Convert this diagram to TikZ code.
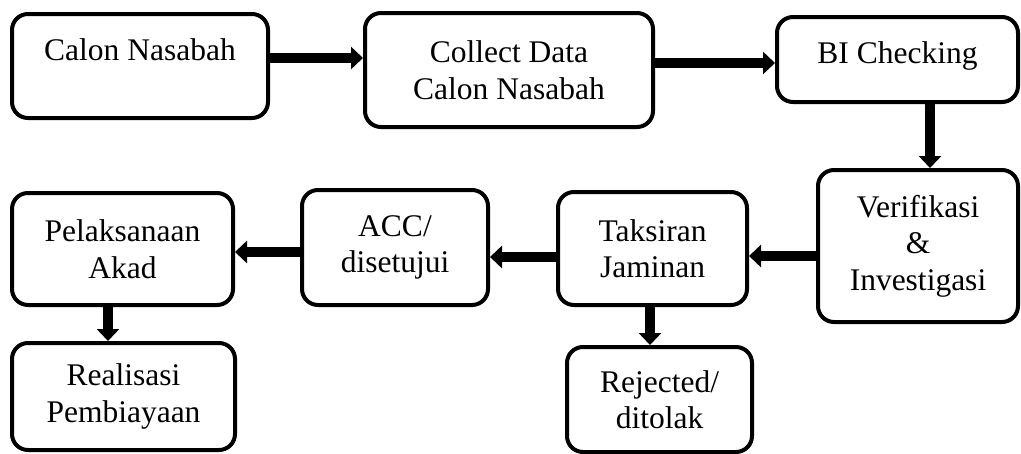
\documentclass[tikz,border=0pt]{standalone}
\usepackage{fontspec}
\setmainfont{Liberation Serif}
\usepackage{tikz}
\usetikzlibrary{arrows.meta}
\usetikzlibrary{shapes}

\begin{document}
\begin{tikzpicture}[x=1pt, y=-1pt,
    box/.style={draw, line width=4pt, rounded corners=16pt, align=center,
        inner sep=0pt, font=\fontsize{31.5}{36.5}\selectfont},
    arr/.style={line width=10pt, -{Triangle[length=12pt, width=22pt]}}]
        \useasboundingbox (0, 0) rectangle (1021, 453);

        \node[box, minimum width=256, minimum height=104, text height=22pt, text depth=34pt]
            (calon) at (140, 66) {Calon Nasabah};
        \node[box, minimum width=288, minimum height=114]
            (collect) at (509, 70) {Collect Data\\Calon Nasabah};
        \node[box, minimum width=241, minimum height=85, text height=22pt, text depth=15pt]
            (bi) at (897.5, 59.5) {BI Checking};
        \node[box, minimum width=200, minimum height=152]
            (verif) at (918, 246) {Verifikasi\\\&\\Investigasi};
        \node[box, minimum width=189, minimum height=113]
            (taksir) at (652.5, 248.5) {Taksiran\\Jaminan};
        \node[box, minimum width=186, minimum height=115]
            (acc) at (395, 247.5) {ACC/\\disetujui};
        \node[box, minimum width=221, minimum height=112]
            (akad) at (122.5, 249) {Pelaksanaan\\Akad};
        \node[box, minimum width=223, minimum height=107]
            (realisasi) at (123.5, 396.5) {Realisasi\\Pembiayaan};
        \node[box, minimum width=185, minimum height=105]
            (rejected) at (659.5, 399.5) {Rejected/\\ditolak};

        \draw[arr] ([yshift=8pt]calon.east) -- ([yshift=8pt]calon.east -| collect.west);
        \draw[arr] ([yshift=7pt]collect.east) -- ([yshift=7pt]collect.east -| bi.west);
        \draw[arr] ([xshift=12pt]verif.north |- bi.south) -- ([xshift=12pt]verif.north);
        \draw[arr] ([yshift=-10pt]verif.west) -- ([yshift=-10pt]verif.west -| taksir.east);
        \draw[arr] ([yshift=-8.5pt]taksir.west) -- ([yshift=-8.5pt]taksir.west -| acc.east);
        \draw[arr] ([yshift=-4.5pt]acc.west) -- ([yshift=-4.5pt]acc.west -| akad.east);
        \draw[arr] ([xshift=-14.5pt]akad.south) -- ([xshift=-14.5pt]akad.south |- realisasi.north);
        \draw[arr] ([xshift=-2.5pt]taksir.south) -- ([xshift=-2.5pt]taksir.south |- rejected.north);
\end{tikzpicture}
\end{document}
